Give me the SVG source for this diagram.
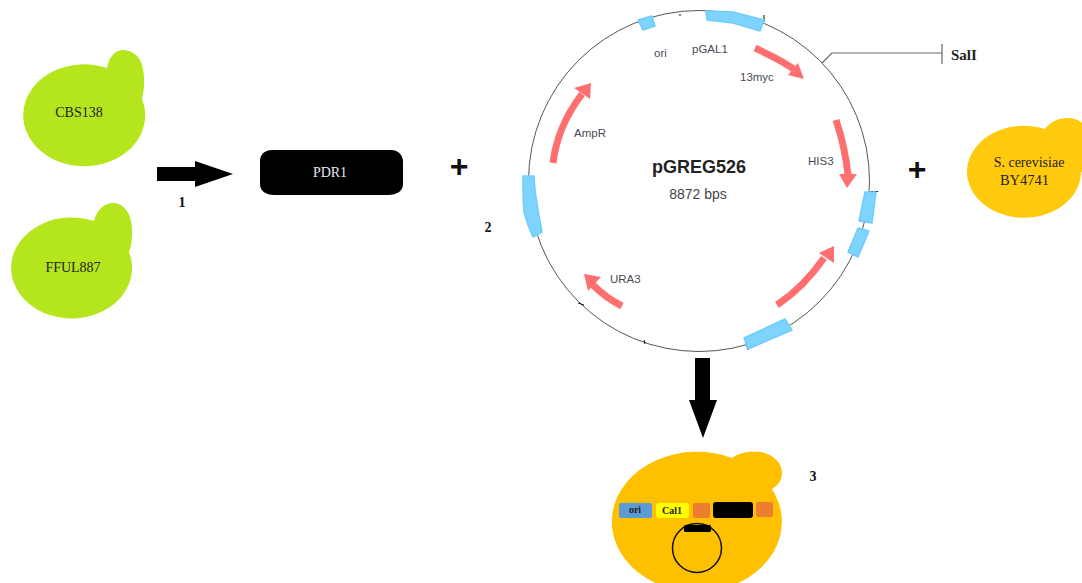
<svg xmlns="http://www.w3.org/2000/svg" width="1082" height="583" viewBox="0 0 1082 583">
<style>
.serif{font-family:"Liberation Serif","Times New Roman",serif}
.sans{font-family:"Liberation Sans",Arial,sans-serif}
.lbl{font-size:11.5px;fill:#4a4a55}
.cell-green{fill:#b5e61d}
.cell-gold{fill:#ffc000}
.feature{fill:#7ed3ff;stroke:#6fcdfb;stroke-width:1.500;stroke-linejoin:round}
.orf-shaft{fill:none;stroke:#ff6f6f;stroke-width:7}
.orf-head{fill:#ff6f6f}
.tick{fill:none;stroke:#111;stroke-width:1}
.name{font-size:14px;fill:#222;text-anchor:middle}
.step{font-size:14px;font-weight:bold;fill:#111;text-anchor:middle}
.plus{font-size:32px;font-weight:bold;fill:#111;text-anchor:middle}
</style>
<rect width="1082" height="583" fill="#fff"/>
<g id="cbs138">
<path class="cell-green" d="M107 68C109 57 115 50 123 50C131 50 138 55 141 62C145 71 145 88 142 99A61 51 0 1 1 107 68Z"/>
<text class="serif name" x="79" y="117">CBS138</text>
</g>
<g id="fful887">
<path class="cell-green" d="M94 221C97 209 105 203 113 203C121 203 127 209 130 217C133 226 133 242 129 252A60.500 50.500 0 1 1 94 221Z"/>
<text class="serif name" x="73" y="272">FFUL887</text>
</g>
<g id="pdr1">
<path d="M272 150H391C399 150 403 156 403 162V184C403 191 397 195 388 195H274C266 195 260 191 260 184V161C260 155 264 150 272 150Z"/>
<text class="serif" x="330" y="177" font-size="14" fill="#e8e8f0" text-anchor="middle">PDR1</text>
</g>
<g id="by4741">
<path d="M1045 129C1050 122 1058 118 1067 118C1074 118 1079 120 1082 123V172H1081A57 46 0 1 1 1045 129Z" fill="#ffc90e"/>
<text class="serif" x="1029" y="167" font-size="14" fill="#222" text-anchor="middle">S. cerevisiae</text>
<text class="serif" x="1024.500" y="185" font-size="14.500" fill="#222" text-anchor="middle">BY4741</text>
</g>
<g id="host-cell">
<path class="cell-gold" d="M732 458C740 452 750 451 760 452C773 454 782 463 782 473C782 481 777 486 772 489A85 70 0 1 1 732 458Z"/>
<rect x="619" y="503" width="33" height="15" rx="2" fill="#5b9bd5"/>
<text class="serif" x="635" y="513" font-size="10" font-weight="bold" fill="#222" text-anchor="middle">ori</text>
<rect x="656" y="503" width="33" height="15" rx="3" fill="#ffff00"/>
<text class="serif" x="672" y="514" font-size="10" font-weight="bold" fill="#222" text-anchor="middle">Cal1</text>
<rect x="693" y="503" width="17" height="15" rx="2" fill="#ed7d31"/>
<rect x="713" y="502" width="40" height="16" rx="3" fill="#000"/>
<rect x="756" y="502" width="17" height="15" rx="2" fill="#ed7d31"/>
<circle cx="697" cy="548" r="24.500" fill="none" stroke="#111" stroke-width="1.500"/>
<rect x="684" y="525" width="27" height="7" rx="1.500" fill="#000"/>
</g>
<g id="plasmid">
<circle cx="699" cy="181" r="170.500" fill="none" stroke="#555" stroke-width="1"/>
<path class="tick" d="M764 15V22M870 191.500H878M746 343L748 350M578 303L584 305M644 340L645 344M680 14L680 16"/>
<path class="feature" d="M638 20L652 16L655 26L643 30Z"/>
<path class="feature" d="M706 11L733 12L764 20L760 31L733 23L707 20Z"/>
<path class="feature" d="M865 192L876 192L872 223L859 221Z"/>
<path class="feature" d="M858 228L869 231L858 257L848 252Z"/>
<path class="feature" d="M744 338L785 319L792 330L748 349Z"/>
<path class="feature" d="M523 176L534 176L535 190L538 210L542 232L533 237L528 225L524 212L523 195Z"/>
<path class="orf-shaft" d="M755 48C770 55 783 61 795 70"/>
<path class="orf-head" d="M798 63L804 79L788 75Z"/>
<path class="orf-shaft" d="M836 120C842 138 846 155 848 175"/>
<path class="orf-head" d="M839 174L857 174L847 188Z"/>
<path class="orf-shaft" d="M777 305C795 293 810 278 824 258"/>
<path class="orf-head" d="M819 253L834 246L834 263Z"/>
<path class="orf-shaft" d="M622 306C612 301 602 294 593 285"/>
<path class="orf-head" d="M601 277L584 274L588 291Z"/>
<path class="orf-shaft" d="M553 163C556 138 566 115 582 94"/>
<path class="orf-head" d="M574 88L591 83L590 99Z"/>
<text class="sans" x="699" y="173" font-size="18" font-weight="bold" fill="#222" text-anchor="middle">pGREG526</text>
<text class="sans" x="698" y="199" font-size="14" fill="#444" text-anchor="middle">8872 bps</text>
<text class="sans lbl" x="654" y="57">ori</text>
<text class="sans lbl" x="692" y="53">pGAL1</text>
<text class="sans lbl" x="740" y="81">13myc</text>
<text class="sans lbl" x="574" y="137">AmpR</text>
<text class="sans lbl" x="808" y="165">HIS3</text>
<text class="sans lbl" x="610" y="283">URA3</text>
<text class="serif" x="951" y="60" font-size="15" font-weight="bold" fill="#222">SalI</text>
</g>
<g id="connectors" fill="#000">
<path d="M157 167H195V161L233 174L195 187V181H157Z"/>
<path d="M695 358H710V400H717L703 438L689 400H695Z"/>
<path d="M822 63L832 53H942M942 44V64" fill="none" stroke="#666" stroke-width="1.200"/>
</g>
<g id="annotations">
<text class="serif step" x="182" y="207">1</text>
<text class="serif step" x="488" y="232">2</text>
<text class="serif step" x="813" y="481">3</text>
<text class="sans plus" x="459" y="177">+</text>
<text class="sans plus" x="917" y="180">+</text>
</g>
</svg>
